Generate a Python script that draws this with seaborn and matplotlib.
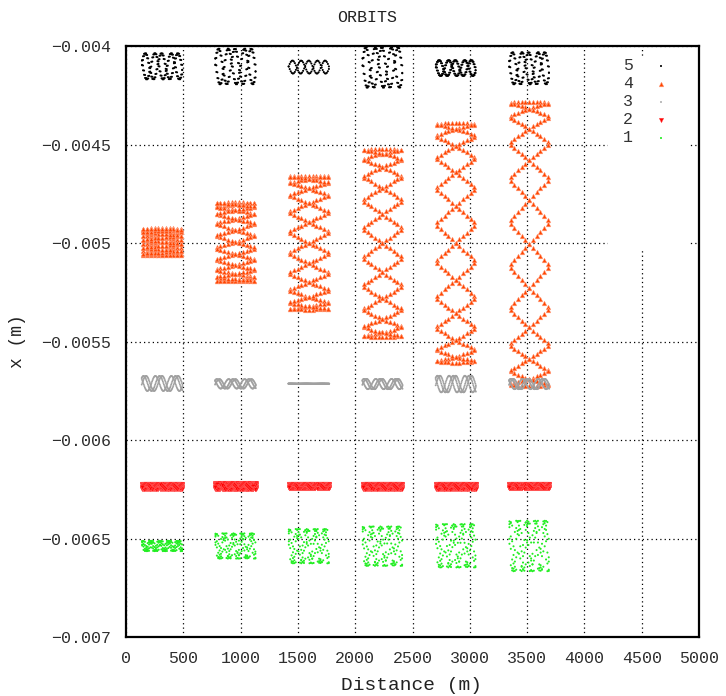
import numpy as np
import pandas as pd
import matplotlib
matplotlib.use("Agg")
import matplotlib.pyplot as plt
from matplotlib.patches import Rectangle
import seaborn as sns

# ---- beam positions recorded at six monitor stations -------------------
band_start = [135, 775, 1415, 2060, 2700, 3340]
band_end = [495, 1135, 1775, 2415, 3055, 3695]

# orbit centre (m) and oscillation amplitude (m) of each particle per station
centre_5 = [-0.004103, -0.004104, -0.004107, -0.004109, -0.004112, -0.004113]
amp_5 = [0.000066, 0.000090, 0.000033, 0.000102, 0.000040, 0.000081]
centre_4 = [-0.004994, -0.004994, -0.004998, -0.005000, -0.004999, -0.005004]
amp_4 = [0.000068, 0.000200, 0.000340, 0.000477, 0.000608, 0.000722]
centre_3 = [-0.005713, -0.005715, -0.005714, -0.005716, -0.005716, -0.005716]
amp_3 = [0.000038, 0.000024, 0.0000005, 0.000026, 0.000042, 0.000026]
centre_2 = [-0.006234, -0.006234, -0.006234, -0.006234, -0.006234, -0.006234]
amp_2 = [0.000013, 0.000014, 0.000012, 0.000013, 0.000013, 0.000012]
centre_1 = [-0.006538, -0.006538, -0.006539, -0.006539, -0.006537, -0.006538]
amp_1 = [0.000026, 0.000064, 0.000087, 0.000100, 0.000110, 0.000128]

# recorded sweeps per station, samples per sweep and betatron
# oscillations per sweep
turns_5 = [4, 4, 2, 4, 4, 4]
turns_4 = [20, 20, 20, 20, 20, 20]
turns_3 = [3, 3, 3, 3, 3, 3]
turns_2 = [10, 10, 10, 10, 10, 10]
turns_1 = [5, 5, 5, 5, 5, 5]
samples = {5: 40, 4: 11, 3: 80, 2: 40, 1: 30}
tune = {5: 2.53, 4: 0.05, 3: 2.58, 2: 3.3, 1: 4.56}

series_labels = ["5", "4", "3", "2", "1"]
x_ticks = [0, 500, 1000, 1500, 2000, 2500, 3000, 3500, 4000, 4500, 5000]
y_ticks = [-0.007, -0.0065, -0.006, -0.0055, -0.005, -0.0045, -0.004]
y_tick_labels = ["\u22120.007", "\u22120.0065", "\u22120.006", "\u22120.0055",
                 "\u22120.005", "\u22120.0045", "\u22120.004"]


def sweep_points(s0, s1, c, a, turns, pts, osc):
    """Positions of one particle as it sweeps a station back and forth."""
    u = (np.arange(turns * pts) + 0.5) / pts
    sweep = 1.0 - np.abs(u % 2.0 - 1.0)
    s = s0 + (s1 - s0) * sweep
    x = c + a * np.cos(2 * np.pi * osc * (u - 0.5))
    return s, x


tables = {5: (centre_5, amp_5, turns_5), 4: (centre_4, amp_4, turns_4),
          3: (centre_3, amp_3, turns_3), 2: (centre_2, amp_2, turns_2),
          1: (centre_1, amp_1, turns_1)}

rows = []
for k, (cs, amps, turns) in tables.items():
    for b in range(len(band_start)):
        s, x = sweep_points(band_start[b], band_end[b], cs[b], amps[b],
                            turns[b], samples[k], tune[k])
        rows.append(pd.DataFrame({"series": k, "distance": s, "x": x}))
df = pd.concat(rows, ignore_index=True)

# ---- figure ------------------------------------------------------------
sns.set_style("white")
plt.rcParams["font.family"] = ["Liberation Mono", "DejaVu Sans Mono"]
plt.rcParams["axes.unicode_minus"] = True

fig = plt.figure(figsize=(7.26, 6.96), dpi=100)
ax = fig.add_axes([126 / 726, 1 - 637 / 696, 573 / 726, 591 / 696])

styles = {
    5: dict(marker="o", s=2.2, color="black", edgecolor="none"),
    4: dict(marker="^", s=11, color="#ff4500", edgecolor="#ffa080", linewidth=0.4),
    3: dict(marker="o", s=1.8, color="#a0a0a0", edgecolor="none"),
    2: dict(marker="v", s=11, color="#ff0000", edgecolor="#ff6060", linewidth=0.3),
    1: dict(marker="o", s=2.2, color="#22ee22", edgecolor="none"),
}
for k in [5, 4, 3, 2, 1]:
    sns.scatterplot(data=df[df["series"] == k], x="distance", y="x",
                    legend=False, ax=ax, zorder=3, **styles[k])

ax.set_xlim(0, 5000)
ax.set_ylim(-0.007, -0.004)
ax.set_xticks(x_ticks)
ax.set_xticklabels([str(t) for t in x_ticks])
ax.set_yticks(y_ticks)
ax.set_yticklabels(y_tick_labels)
ax.set_xlabel("")
ax.set_ylabel("")

ax.set_axisbelow(True)
ax.grid(True, color="black", linestyle=(0, (1, 2.5)), linewidth=0.9)
for sp in ax.spines.values():
    sp.set_color("black")
    sp.set_linewidth(1.6)
ax.tick_params(axis="both", direction="in", length=8, width=1.5,
               colors="black", labelcolor="#2e2e2e", labelsize=12)
ax.tick_params(axis="y", pad=11)
ax.tick_params(axis="x", pad=10)

# key area
ax.add_patch(Rectangle((0.841, 0.655), 0.14, 0.326, transform=ax.transAxes,
                       facecolor="white", edgecolor="none", zorder=1))
key_y = [66, 84, 102, 120, 138]
for lab, py in zip(series_labels, key_y):
    fy = (637 - py) / 591
    ax.text((633 - 126) / 573, fy, lab, transform=ax.transAxes, ha="right",
            va="center", fontsize=12, color="#333333", zorder=4)
    st = dict(styles[int(lab)])
    ax.scatter([(661 - 126) / 573], [fy], transform=ax.transAxes, zorder=4,
               c=st.pop("color"), **st)

fig.text(367 / 726, 1 - 18 / 696, "ORBITS", ha="center", va="center",
         fontsize=12, color="#222222")
fig.text(412 / 726, 1 - 686 / 696, "Distance (m)", ha="center", va="center",
         fontsize=14, color="#222222")
fig.text(18 / 726, 1 - 341 / 696, "x (m)", ha="center", va="center",
         rotation=90, fontsize=13, color="#222222")

fig.savefig("out.png", dpi=100)
